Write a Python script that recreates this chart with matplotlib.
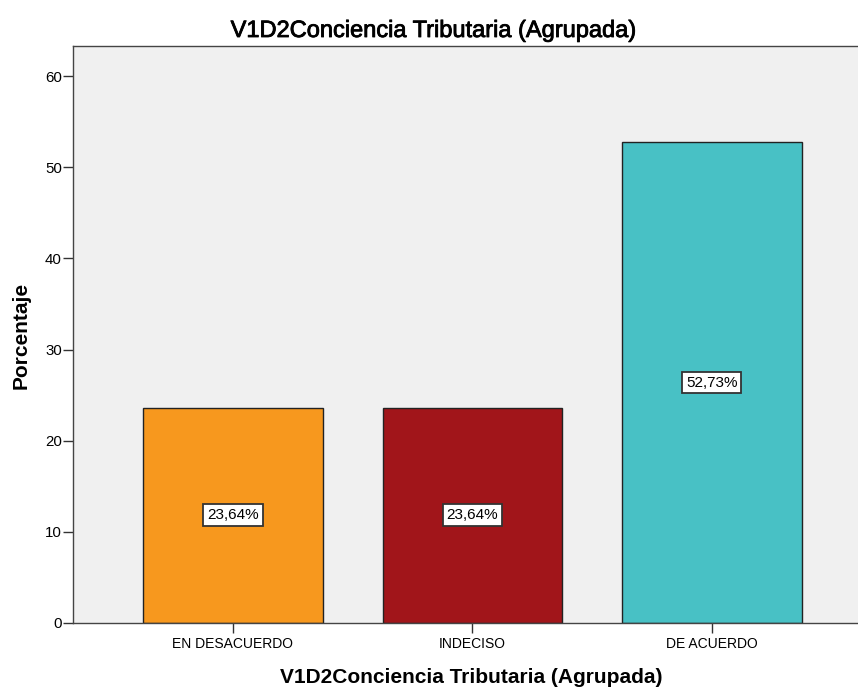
import matplotlib
matplotlib.use("Agg")
import matplotlib.pyplot as plt
import matplotlib.patheffects as pe

categories = ["EN DESACUERDO", "INDECISO", "DE ACUERDO"]
porcentajes = [23.64, 23.64, 52.73]
etiquetas = ["23,64%", "23,64%", "52,73%"]
colores = ["#F7981E", "#A1151A", "#48C1C5"]

plt.rcParams['font.family'] = ['Liberation Sans', 'DejaVu Sans']

fig = plt.figure(figsize=(8.58, 6.87), dpi=100)
ax = fig.add_axes([73 / 858, 1 - 623 / 687, 1 - 73 / 858, (623 - 46) / 687])
ax.set_facecolor('#F0F0F0')

x = range(len(categories))
ax.bar(x, porcentajes, width=0.75, color=colores, edgecolor='#222222', linewidth=1)

# etiquetas de porcentaje dentro de cada barra
for xi, val, lab in zip(x, porcentajes, etiquetas):
    ax.text(xi, val / 2, lab, ha='center', va='center', fontsize=11,
            bbox=dict(boxstyle='square,pad=0.25', facecolor='white', edgecolor='#333333', linewidth=1.3))

ax.set_xlim(-0.668, 2.61)
ax.set_ylim(0, 63.3)
ax.set_yticks([0, 10, 20, 30, 40, 50, 60])
ax.set_xticks(list(x))
ax.set_xticklabels(categories)
ax.tick_params(axis='both', direction='out', length=7, width=1, color='#333333')
ax.tick_params(axis='x', labelsize=10, pad=3)
ax.tick_params(axis='y', labelsize=10.8, pad=1)

for side in ['left', 'bottom', 'top']:
    ax.spines[side].set_color('#444444')
    ax.spines[side].set_linewidth(1)
ax.spines['right'].set_visible(False)

fig.text(21 / 858, 1 - 335 / 687, 'Porcentaje', rotation=90, ha='center', va='center',
         fontsize=15, fontweight='bold')
fig.text(434 / 858, 1 - 31 / 687, 'V1D2Conciencia Tributaria (Agrupada)', ha='center', va='center',
         fontsize=17, path_effects=[pe.withStroke(linewidth=0.6, foreground='black')])
fig.text(471 / 858, 1 - 683 / 687, 'V1D2Conciencia Tributaria (Agrupada)', ha='center', va='baseline',
         fontsize=15, fontweight='bold')

plt.savefig('out.png', dpi=100)
